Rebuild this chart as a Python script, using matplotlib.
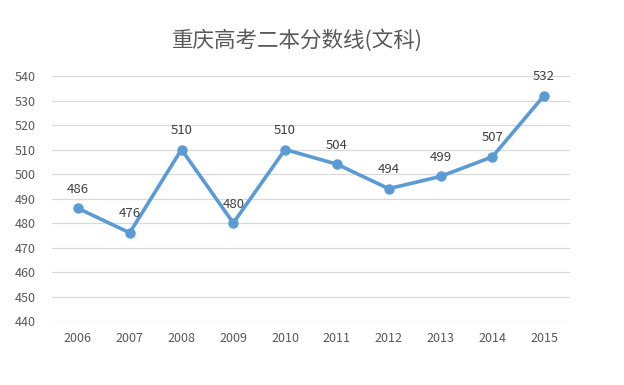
import matplotlib
matplotlib.use('Agg')
import matplotlib.pyplot as plt

plt.rcParams['font.family'] = ['Noto Sans CJK SC', 'DejaVu Sans']

years = ['2006', '2007', '2008', '2009', '2010', '2011', '2012', '2013', '2014', '2015']
scores = [486, 476, 510, 480, 510, 504, 494, 499, 507, 532]
yticks = [440, 450, 460, 470, 480, 490, 500, 510, 520, 530, 540]

line_color = '#5B9BD5'
text_color = '#595959'

fig = plt.figure(figsize=(6.24, 3.85), dpi=100)
ax = fig.add_axes([52 / 624, 1 - 321 / 385, (570 - 52) / 624, (321 - 76) / 385])

x = list(range(len(years)))
ax.plot(x, scores, color=line_color, linewidth=2.6, marker='o', markersize=6.5,
        solid_capstyle='round', solid_joinstyle='round', zorder=3, clip_on=False)

for xi, v in zip(x, scores):
    ax.annotate(str(v), (xi, v), xytext=(0, 9), textcoords='offset points',
                ha='center', va='bottom', fontsize=9.5, color='#404040')

ax.set_xlim(-0.5, len(years) - 0.5)
ax.set_ylim(440, 540)
ax.set_yticks(yticks)
ax.set_xticks(x)
ax.set_xticklabels(years)
ax.tick_params(axis='both', length=0, labelsize=9, labelcolor=text_color)
ax.tick_params(axis='y', pad=12)
ax.tick_params(axis='x', pad=8)
ax.grid(axis='y', color='#D9D9D9', linewidth=0.9)
ax.set_axisbelow(True)
for s in ax.spines.values():
    s.set_visible(False)

fig.text(297 / 624, 1 - 40 / 385, '重庆高考二本分数线(文科)', ha='center', va='center',
         fontsize=15.5, color=text_color)

fig.savefig('out.png', dpi=100, facecolor='white')
